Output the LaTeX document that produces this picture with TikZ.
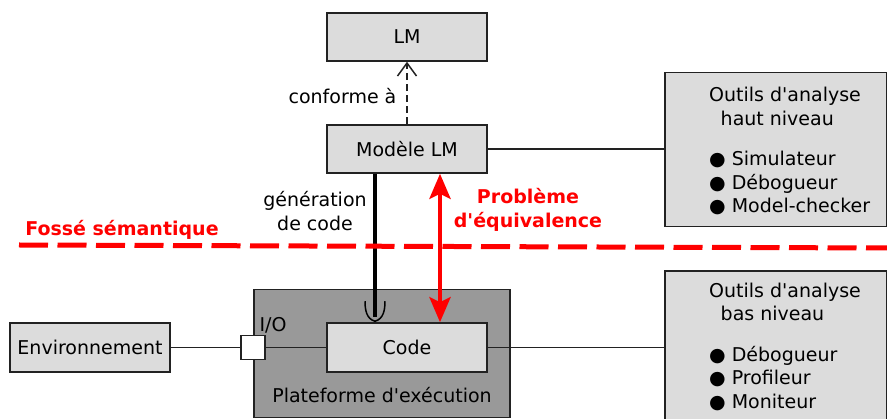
\documentclass[tikz,border=0pt]{standalone}
\usepackage{fontspec}
\setmainfont{DejaVu Sans}
\usepackage{tikz}
\usetikzlibrary{arrows.meta}
\definecolor{boxgray}{HTML}{DCDCDC}
\definecolor{platgray}{HTML}{999999}
\definecolor{bordgray}{HTML}{222222}
\newcommand{\txtfont}{\fontsize{19}{23.5}\selectfont}
\tikzstyle{bloc} = [draw=bordgray, line width=1.5pt, fill=boxgray, minimum width=160pt, minimum height=48pt, inner sep=0pt]
\tikzstyle{outil} = [draw=bordgray, line width=1.5pt, fill=boxgray, minimum width=222pt, inner sep=0pt, anchor=north west]
\tikzstyle{liste} = [align=left, anchor=north west, inner sep=0pt]
\tikzstyle{lien} = [line width=1.5pt, bordgray]
\tikzstyle{rouge} = [red, font=\txtfont\bfseries]

\begin{document}
\begin{tikzpicture}[x=1pt,y=-1pt,font=\txtfont]
			\useasboundingbox (0,0) rectangle (887,419);
			\node[draw=bordgray, line width=1.5pt, fill=platgray, minimum width=256pt, minimum height=128pt, inner sep=0pt, anchor=north west] (plat) at (253,289) {};
			\node[anchor=base] (platlbl) at (382,403) {Plateforme d\textquotesingle exécution};
			\node[bloc] (lm) at (407,37) {LM};
			\node[bloc] (modele) at (407,149) {Modèle LM};
			\node[bloc, minimum height=49pt] (code) at (407,347.5) {Code};
			\node[bloc, minimum height=49pt] (env) at (90,347.5) {Environnement};
			\node[draw=bordgray, line width=1.5pt, fill=white, minimum size=24pt, inner sep=0pt] (io) at (253,347.5) {};
			\node[anchor=base] (iolbl) at (273,332) {I/O};
			\node[outil, minimum height=154pt] (haut) at (664,72) {};
			\node[liste] (hautliste) at (709,87) {Outils d\textquotesingle analyse\\\hspace{11.5pt}haut niveau\\[17pt]● Simulateur\\● Débogueur\\● Model-checker};
			\node[outil, minimum height=160pt] (bas) at (664,270.5) {};
			\node[liste] (basliste) at (709,282.5) {Outils d\textquotesingle analyse\\\hspace{11.5pt}bas niveau\\[17pt]● Débogueur\\● Profileur\\● Moniteur};
			\draw[lien] (modele.east) -- (modele.east -| haut.west);
			\draw[lien] (code.east) -- (code.east -| bas.west);
			\draw[lien] (env.east) -- (io.west);
			\draw[lien] (io.east) -- (code.west);
			\draw[lien, dash pattern=on 7pt off 4pt, -{Straight Barb[length=13pt,width=19pt,line width=1.5pt]}] (modele.north) -- (lm.south);
			\node[anchor=base] (conforme) at (342.5,103.5) {conforme à};
			\coordinate (socket) at ([xshift=-32pt,yshift=1pt]code.north);
			\draw[line width=4.5pt] ([xshift=-32pt]modele.south) -- ([yshift=4pt]socket);
			\draw[line width=1.5pt] ([xshift=-10pt,yshift=20pt]socket) to[out=-90,in=165] (socket) to[out=15,in=-90] ([xshift=10pt,yshift=20pt]socket);
			\node[align=center] (generation) at (315,211) {génération\\de code};
			\draw[line width=4.5pt, red, {Stealth[length=25pt,width=21pt,inset=5pt]}-{Stealth[length=25pt,width=21pt,inset=5pt]}] ([xshift=33pt]modele.south) -- ([xshift=33pt]code.north);
			\node[rouge, align=center] (equivalence) at (528,210) {Problème\\d\textquotesingle équivalence};
			\coordinate (fosseG) at (19,245);
			\coordinate (fosseD) at (887,248);
			\draw[line width=5pt, red, dash pattern=on 29pt off 9.5pt] (fosseG) -- (fosseD);
			\node[rouge, anchor=base] (fosse) at (122,236) {Fossé sémantique};
		\end{tikzpicture}
\end{document}
